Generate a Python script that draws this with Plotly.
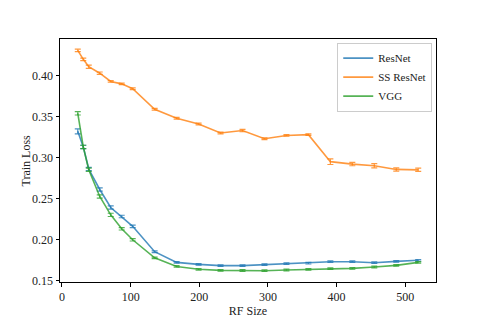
import plotly.graph_objects as go

rf_size = [23, 31, 39, 55, 71, 87, 103, 135, 167, 199, 231, 263, 295, 327, 359, 391, 423, 455, 487, 519]

resnet = [0.332, 0.313, 0.286, 0.261, 0.239, 0.228, 0.216, 0.185, 0.172, 0.1695, 0.168, 0.168, 0.1692, 0.1705, 0.171, 0.1728, 0.1728, 0.1716, 0.1732, 0.1745]
resnet_err = [0.003, 0.002, 0.002, 0.002, 0.002, 0.0015, 0.0015, 0.001, 0.001, 0.001, 0.001, 0.001, 0.001, 0.001, 0.001, 0.001, 0.001, 0.001, 0.001, 0.001]

ss_resnet = [0.431, 0.420, 0.411, 0.403, 0.393, 0.390, 0.384, 0.359, 0.348, 0.341, 0.330, 0.333, 0.323, 0.327, 0.328, 0.295, 0.292, 0.290, 0.2855, 0.285]
ss_resnet_err = [0.0015, 0.0015, 0.002, 0.0015, 0.001, 0.001, 0.001, 0.001, 0.001, 0.001, 0.001, 0.0015, 0.001, 0.001, 0.001, 0.0035, 0.002, 0.0025, 0.002, 0.002]

vgg = [0.354, 0.313, 0.285, 0.2525, 0.230, 0.213, 0.1996, 0.1775, 0.167, 0.1635, 0.1622, 0.1620, 0.1618, 0.1627, 0.1634, 0.1643, 0.1646, 0.1663, 0.1683, 0.172]
vgg_err = [0.002, 0.002, 0.002, 0.002, 0.002, 0.0015, 0.0015, 0.001, 0.001, 0.001, 0.001, 0.001, 0.001, 0.001, 0.001, 0.001, 0.001, 0.001, 0.001, 0.001]

x_ticks = [0, 100, 200, 300, 400, 500]
y_ticks = [0.15, 0.20, 0.25, 0.30, 0.35, 0.40]

series = [
    ("ResNet", resnet, resnet_err, "rgba(31,119,180,0.8)"),
    ("SS ResNet", ss_resnet, ss_resnet_err, "rgba(255,127,14,0.8)"),
    ("VGG", vgg, vgg_err, "rgba(44,160,44,0.8)"),
]

fig = go.Figure()
for name, vals, errs, color in series:
    fig.add_trace(go.Scatter(
        x=rf_size, y=vals, name=name, mode="lines",
        line=dict(color=color, width=1.6),
        error_y=dict(type="data", array=errs, visible=True, color=color, thickness=1.2, width=3),
    ))

font = "Liberation Serif, DejaVu Serif, serif"
fig.update_layout(
    width=477, height=315,
    margin=dict(l=52, r=49, t=31, b=41, autoexpand=False),
    paper_bgcolor="white", plot_bgcolor="white",
    font=dict(family=font, size=12, color="#222"),
    showlegend=True,
    legend=dict(x=0.99, y=0.985, xanchor="right", yanchor="top",
                bgcolor="rgba(255,255,255,0.8)", bordercolor="#cccccc", borderwidth=1,
                font=dict(family=font, size=11, color="#222"),
                tracegroupgap=0, itemwidth=30),
    xaxis=dict(range=[-2.9, 544.9], tickvals=x_ticks, ticktext=[str(v) for v in x_ticks],
               showgrid=False, zeroline=False, showline=True, linecolor="black", linewidth=1,
               mirror=True, ticks="outside", ticklen=3.5, tickcolor="black", tickwidth=0.8,
               title=dict(text="RF Size", standoff=2, font=dict(family=font, size=12, color="#222"))),
    yaxis=dict(range=[0.148, 0.4448], tickvals=y_ticks, ticktext=["%.2f" % v for v in y_ticks],
               showgrid=False, zeroline=False, showline=True, linecolor="black", linewidth=1,
               mirror=True, ticks="outside", ticklen=3.5, tickcolor="black", tickwidth=0.8),
    annotations=[dict(text="Train Loss", xref="paper", yref="paper", x=0, y=0.5,
                      xanchor="center", yanchor="middle", xshift=-35, textangle=-90,
                      showarrow=False, font=dict(family=font, size=12, color="#222"))],
)

fig.write_html("out.html")
